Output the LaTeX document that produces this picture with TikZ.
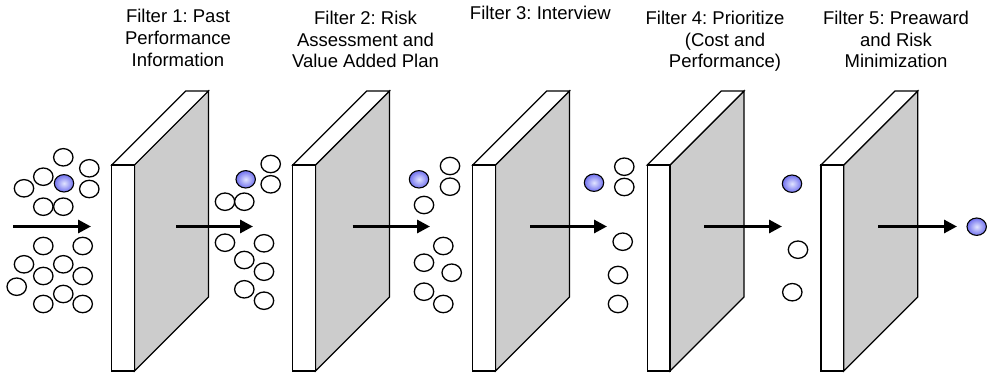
\documentclass[tikz,border=0pt]{standalone}
\usepackage{fontspec}
\setmainfont{Liberation Sans}
\usetikzlibrary{arrows.meta,shapes.geometric}
\definecolor{panelgray}{RGB}{204,204,204}
\definecolor{ballin}{RGB}{225,228,255}
\definecolor{ballout}{RGB}{112,112,238}
\tikzset{
  ball/.style={shape=ellipse,draw=black,line width=1.3pt,fill=white,minimum width=19.4pt,minimum height=17.4pt,inner sep=0pt},
  blueball/.style={ball,line width=1.1pt,inner color=ballin,outer color=ballout},
  flow/.style={line width=3pt,-{Triangle[length=13pt,width=13pt]}},
  panel/.style={draw=black,line width=1.2pt,line join=miter},
  lab/.style={font=\fontsize{18.5}{21.7}\selectfont\frenchspacing,align=center,anchor=north,inner sep=0pt}
}
\begin{document}
\frenchspacing
\begin{tikzpicture}[x=1pt,y=-1pt]
\useasboundingbox (0,0) rectangle (988,374);
% filters
\foreach \L in {111.7,292.7,472.7,647.3,821}{
  \draw[panel,fill=panelgray] ({\L+22.7},165) -- ({\L+96.7},91) -- ({\L+96.7},297) -- ({\L+22.7},371) -- cycle;
  \draw[panel,fill=white] (\L,165) -- ({\L+74},91) -- ({\L+96.7},91) -- ({\L+22.7},165) -- cycle;
  \draw[panel,fill=white] (\L,165) rectangle ({\L+22.7},371);
}
% labels
\node[lab] (l1) at (178,9) {Filter 1: Past\\Performance\\Information};
\node[lab] (l2) at (365.5,10.7) {Filter 2: Risk\\Assessment and\\Value Added Plan};
\node[lab] (l3) at (540.4,5.7) {Filter 3: Interview};
\node[lab] (l4) at (725,10.7) {Filter 4: Prioritize\hspace*{20pt}\\(Cost and\\Performance)};
\node[lab] (l5) at (896,10.7) {Filter 5: Preaward\\and Risk\\Minimization};
% group 1
\foreach \x/\y [count=\i] in {63.3/157.3,89.3/168.3,43.3/176.7,24/188.3,89.3/189,43.3/206.7,63.3/206.7,43.3/246,82.7/246,24/264.3,63.3/264.3,43.3/276,82.7/276,16.7/286.7,63.3/294,43.3/304,82.7/304}
  \node[ball] (ga\i) at (\x,\y) {};
\node[blueball] (ba) at (64,183.3) {};
% group 2
\foreach \x/\y [count=\i] in {270.7/164,270.7/184.3,225/201.7,244.3/201.7,225/242.7,264/243.3,244.3/260,264/271.7,244.3/289.3,264/300.7}
  \node[ball] (gb\i) at (\x,\y) {};
\node[blueball] (bb) at (245.7,179.3) {};
% group 3
\foreach \x/\y [count=\i] in {450/166,450/186.7,424/205,443.3/246,424/262.7,451.7/272.7,424/291.7,443.3/304}
  \node[ball] (gc\i) at (\x,\y) {};
\node[blueball] (bc) at (419,179.3) {};
% group 4
\foreach \x/\y [count=\i] in {624.3/166.7,624.3/187,622.7/241.7,618/275,618/304}
  \node[ball] (gd\i) at (\x,\y) {};
\node[blueball] (bd) at (594,182.7) {};
% group 5
\foreach \x/\y [count=\i] in {798/249.7,792.3/292.2}
  \node[ball] (ge\i) at (\x,\y) {};
\node[blueball] (be) at (792,183.7) {};
% final
\node[blueball] (bf) at (976.7,226.7) {};
% arrows
\coordinate (s1) at (13,226.5);   \coordinate (e1) at (91,226.5);
\coordinate (s2) at (176,226.5); \coordinate (e2) at (253,226.5);
\coordinate (s3) at (352.7,226.5); \coordinate (e3) at (430,226.5);
\coordinate (s4) at (530,226.5); \coordinate (e4) at (607,226.5);
\coordinate (s5) at (704,226.5); \coordinate (e5) at (782,226.5);
\coordinate (s6) at (878,226.5); \coordinate (e6) at (957,226.5);
\foreach \i in {1,...,6} \draw[flow] (s\i) -- (e\i);
\end{tikzpicture}
\end{document}
